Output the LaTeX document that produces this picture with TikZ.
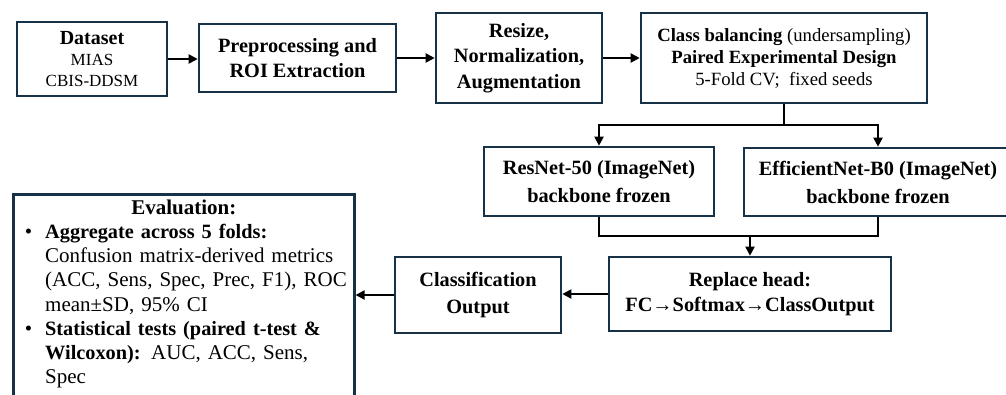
\documentclass[tikz,border=0pt]{standalone}
\usepackage{fontspec}
\setmainfont{Liberation Serif}
\usetikzlibrary{arrows.meta}
\definecolor{boxline}{HTML}{173246}
\newcommand{\bulletmark}{\leavevmode\llap{•\hspace{13pt}}}
\begin{document}
\begin{tikzpicture}[x=1pt,y=-1pt,
  box/.style={draw=boxline, line width=2.6pt, fill=white, align=center, inner sep=2pt, text=black},
  flow/.style={line width=2pt, -{Triangle[length=9pt,width=9pt]}},
  link/.style={line width=2pt},
  boldA/.style={font=\fontsize{20.3}{25}\selectfont\bfseries},
  boldB/.style={font=\fontsize{20.3}{28}\selectfont\bfseries},
]
\path[use as bounding box, fill=white] (0,0) rectangle (1006,394);

% top row
\node[box, minimum width=150, minimum height=74, font=\fontsize{17}{21}\selectfont] (ds) at (92,59)
  {{\fontsize{20}{21}\selectfont\bfseries Dataset}\\MIAS\\CBIS-DDSM};
\node[box, boldA, minimum width=197, minimum height=68] (pp) at (297.5,58)
  {Preprocessing and\\ROI Extraction};
\node[box, font=\fontsize{20.3}{25.5}\selectfont\bfseries, minimum width=166, minimum height=90] (rz) at (519,58)
  {Resize,\\Normalization,\\Augmentation};
\node[box, font=\fontsize{18.7}{22}\selectfont, minimum width=286, minimum height=90] (cb) at (784,58)
  {\textbf{Class balancing} (undersampling)\\\textbf{Paired Experimental Design}\\5-Fold CV;\ \ fixed seeds};

% backbones
\node[box, boldB, minimum width=230, minimum height=69] (rn) at (599,181.5)
  {ResNet-50 (ImageNet)\\backbone frozen};
\node[box, boldB, minimum width=268, minimum height=68] (en) at (878,182)
  {EfficientNet-B0 (ImageNet)\\backbone frozen};

% bottom row
\node[box, boldA, minimum width=282, minimum height=74] (rh) at (750,294)
  {Replace head:\\FC→Softmax→ClassOutput};
\node[box, font=\fontsize{20.3}{27}\selectfont\bfseries, minimum width=166, minimum height=76] (co) at (478,295)
  {Classification\\Output};
\node[box, minimum width=341, minimum height=215, anchor=north west] (ev) at (12,193) {};
\node[font=\fontsize{21}{24.4}\selectfont\bfseries, inner sep=0] (evtitle) at (ev.north |- 0,207) {Evaluation:};
\node[anchor=north west, inner sep=0, align=left, text width=400, font=\fontsize{21}{24.2}\selectfont] (evtxt) at (45,224)
  {\bulletmark{\fontsize{20.3}{24.2}\selectfont\bfseries Aggregate across 5 folds:}\\
   Confusion matrix-derived metrics\\
   (ACC, Sens, Spec, Prec, F1), ROC\\
   mean±SD, 95\% CI\\
   \bulletmark{\fontsize{20.3}{24.2}\selectfont\bfseries Statistical tests (paired t-test \&}\\
   {\fontsize{20.3}{24.2}\selectfont\bfseries Wilcoxon):} AUC, ACC, Sens,\\
   Spec};

% connectors
\draw[flow] (ds.east) -- (ds.east -| pp.west);
\draw[flow] (pp.east) -- (pp.east -| rz.west);
\draw[flow] (rz.east) -- (rz.east -| cb.west);
\coordinate (split) at (cb.south |- 0,125);
\draw[flow] (cb.south) -- (split) -| (rn.north);
\draw[flow] (split) -| (en.north);
\coordinate (merge) at (rh.north |- 0,236);
\draw[link] (rn.south) |- (merge) -| (en.south);
\draw[flow] (merge) -- (rh.north);
\draw[flow] (rh.west) -- (rh.west -| co.east);
\draw[flow] (co.west) -- (co.west -| ev.east);
\end{tikzpicture}
\end{document}
